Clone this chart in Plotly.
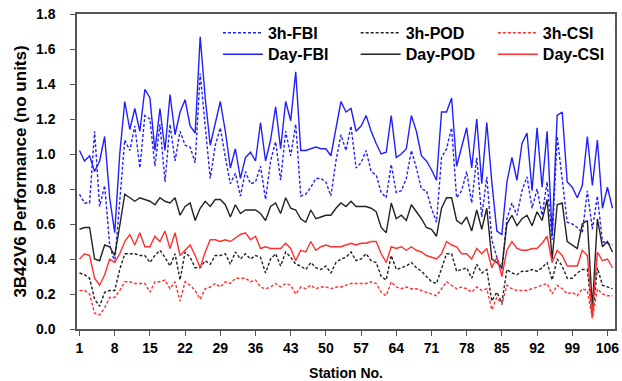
import plotly.graph_objects as go

stations = list(range(1, 108))
x_ticks = [1, 8, 15, 22, 29, 36, 43, 50, 57, 64, 71, 78, 85, 92, 99, 106]
y_ticks = [0.0, 0.2, 0.4, 0.6, 0.8, 1.0, 1.2, 1.4, 1.6, 1.8]

day_fbi = [1.02, 0.96, 0.99, 0.90, 0.96, 1.10, 0.75, 0.55, 1.00, 1.30,
           1.14, 1.26, 1.13, 1.37, 1.32, 1.02, 1.26, 1.02, 1.34, 1.11,
           1.24, 1.31, 1.16, 1.12, 1.67, 1.32, 1.05, 1.18, 1.30, 1.13,
           0.92, 1.03, 0.86, 0.98, 1.01, 0.96, 1.18, 0.96, 1.08, 1.27,
           1.03, 1.30, 1.19, 1.47, 1.02, 1.02, 1.03, 1.04, 1.03, 1.03,
           0.99, 1.15, 1.30, 1.24, 1.26, 1.13, 1.16, 1.22, 1.13, 1.06,
           1.00, 1.01, 1.22, 0.98, 1.00, 1.03, 1.22, 1.13, 0.99, 0.96,
           0.91, 0.85, 1.24, 1.24, 1.32, 0.93, 1.04, 1.15, 0.92, 1.20,
           0.83, 1.18, 0.84, 0.56, 0.54, 0.84, 0.98, 0.85, 1.06, 1.12,
           0.79, 1.15, 0.81, 1.13, 0.54, 1.22, 1.24, 0.84, 0.81, 0.75,
           0.82, 1.10, 0.82, 1.08, 0.69, 0.81, 0.69]

h3_fbi = [0.77, 0.72, 0.72, 1.13, 0.70, 0.82, 0.48, 0.38, 0.73, 1.08,
          1.02, 1.16, 0.92, 1.22, 1.20, 0.93, 1.17, 0.84, 1.17, 0.96,
          1.13, 1.05, 1.04, 0.95, 1.46, 1.17, 0.86, 1.05, 1.15, 0.98,
          0.83, 0.89, 0.76, 0.90, 0.83, 0.84, 0.93, 0.74, 0.96, 1.07,
          0.85, 1.13, 0.99, 1.17, 0.76, 0.77, 0.81, 0.86, 0.86, 0.84,
          0.76, 0.96, 1.11, 1.02, 1.16, 0.92, 0.95, 1.02, 0.90, 0.88,
          0.78, 0.75, 0.94, 0.78, 0.79, 0.86, 1.02, 0.92, 0.80, 0.79,
          0.69, 0.61, 0.98, 1.03, 1.15, 0.75, 0.79, 0.90, 0.72, 0.98,
          0.64, 0.87, 0.51, 0.41, 0.34, 0.63, 0.72, 0.65, 0.79, 0.87,
          0.69, 0.80, 0.65, 0.84, 0.51, 1.10, 0.85, 0.61, 0.60, 0.58,
          0.55, 0.79, 0.57, 0.76, 0.50, 0.49, 0.48]

day_pod = [0.57, 0.58, 0.58, 0.40, 0.39, 0.48, 0.47, 0.42, 0.59, 0.77,
           0.75, 0.73, 0.75, 0.74, 0.73, 0.71, 0.75, 0.73, 0.72, 0.75,
           0.65, 0.70, 0.72, 0.62, 0.69, 0.73, 0.70, 0.74, 0.74, 0.71,
           0.64, 0.71, 0.66, 0.68, 0.68, 0.68, 0.66, 0.62, 0.70, 0.72,
           0.66, 0.75, 0.69, 0.68, 0.63, 0.61, 0.68, 0.63, 0.64, 0.65,
           0.65, 0.69, 0.72, 0.70, 0.73, 0.70, 0.70, 0.70, 0.69, 0.67,
           0.58, 0.55, 0.72, 0.63, 0.65, 0.62, 0.71, 0.67, 0.63, 0.58,
           0.57, 0.53, 0.69, 0.75, 0.75, 0.62, 0.60, 0.64, 0.56, 0.68,
           0.57, 0.69, 0.40, 0.38, 0.35, 0.60, 0.65, 0.59, 0.63, 0.65,
           0.59, 0.67, 0.62, 0.74, 0.40, 0.71, 0.72, 0.50, 0.48, 0.46,
           0.60, 0.62, 0.12, 0.63, 0.47, 0.50, 0.44]

h3_pod = [0.32, 0.31, 0.29, 0.17, 0.13, 0.21, 0.22, 0.22, 0.34, 0.43,
          0.43, 0.43, 0.42, 0.42, 0.38, 0.42, 0.45, 0.41, 0.36, 0.43,
          0.28, 0.44, 0.41, 0.35, 0.35, 0.39, 0.37, 0.42, 0.42, 0.43,
          0.37, 0.44, 0.40, 0.43, 0.40, 0.42, 0.41, 0.32, 0.40, 0.43,
          0.36, 0.44, 0.41, 0.37, 0.36, 0.34, 0.38, 0.35, 0.34, 0.36,
          0.32, 0.38, 0.40, 0.41, 0.44, 0.39, 0.40, 0.43, 0.39, 0.38,
          0.30, 0.28, 0.42, 0.34, 0.35, 0.36, 0.38, 0.35, 0.33, 0.30,
          0.27, 0.26, 0.34, 0.43, 0.43, 0.33, 0.34, 0.35, 0.29, 0.37,
          0.32, 0.34, 0.16, 0.21, 0.15, 0.34, 0.32, 0.31, 0.33, 0.33,
          0.34, 0.33, 0.35, 0.38, 0.28, 0.40, 0.36, 0.29, 0.29, 0.32,
          0.34, 0.34, 0.07, 0.35, 0.25, 0.24, 0.23]

day_csi = [0.40, 0.43, 0.42, 0.29, 0.25, 0.31, 0.40, 0.38, 0.43, 0.50,
           0.54, 0.48, 0.55, 0.47, 0.47, 0.53, 0.50, 0.56, 0.46, 0.55,
           0.42, 0.45, 0.48, 0.42, 0.35, 0.44, 0.51, 0.51, 0.50, 0.51,
           0.50, 0.52, 0.54, 0.55, 0.51, 0.53, 0.46, 0.47, 0.46, 0.46,
           0.46, 0.49, 0.46, 0.39, 0.45, 0.44, 0.50, 0.45, 0.47, 0.48,
           0.47, 0.47, 0.47, 0.48, 0.49, 0.48, 0.49, 0.49, 0.50, 0.50,
           0.43, 0.38, 0.47, 0.46, 0.47, 0.45, 0.47, 0.45, 0.44, 0.42,
           0.41, 0.40, 0.43, 0.50, 0.48, 0.47, 0.43, 0.43, 0.40, 0.46,
           0.43, 0.46, 0.35, 0.41, 0.30, 0.45, 0.50, 0.46, 0.45, 0.45,
           0.46, 0.46, 0.49, 0.53, 0.38, 0.45, 0.42, 0.36, 0.36, 0.36,
           0.45, 0.42, 0.08, 0.44, 0.39, 0.40, 0.35]

h3_csi = [0.22, 0.22, 0.20, 0.09, 0.08, 0.12, 0.18, 0.18, 0.22, 0.27,
          0.27, 0.26, 0.26, 0.26, 0.21, 0.27, 0.27, 0.28, 0.23, 0.27,
          0.16, 0.27, 0.25, 0.22, 0.17, 0.23, 0.24, 0.26, 0.24, 0.27,
          0.26, 0.29, 0.29, 0.29, 0.27, 0.28, 0.24, 0.23, 0.24, 0.26,
          0.24, 0.26, 0.25, 0.20, 0.24, 0.23, 0.25, 0.23, 0.24, 0.24,
          0.23, 0.24, 0.24, 0.25, 0.26, 0.26, 0.26, 0.26, 0.27, 0.26,
          0.21, 0.19, 0.27, 0.24, 0.23, 0.24, 0.23, 0.23, 0.22, 0.21,
          0.20, 0.19, 0.23, 0.27, 0.25, 0.23, 0.24, 0.23, 0.21, 0.24,
          0.22, 0.23, 0.11, 0.18, 0.14, 0.25, 0.23, 0.22, 0.22, 0.22,
          0.23, 0.24, 0.25, 0.26, 0.20, 0.25, 0.23, 0.20, 0.21, 0.19,
          0.23, 0.22, 0.06, 0.23, 0.20, 0.19, 0.19]

BLUE = "#2020ff"
BLACK = "#222222"
RED = "#ff3030"
DOT = "3px,2px"
FONT = "Liberation Sans, Arial, sans-serif"

series = [
    ("3h-FBI", h3_fbi, BLUE, DOT, "legend"),
    ("3h-POD", h3_pod, BLACK, DOT, "legend2"),
    ("3h-CSI", h3_csi, RED, DOT, "legend3"),
    ("Day-FBI", day_fbi, BLUE, "solid", "legend4"),
    ("Day-POD", day_pod, BLACK, "solid", "legend5"),
    ("Day-CSI", day_csi, RED, "solid", "legend6"),
]

fig = go.Figure()
for name, vals, color, dash, leg in series:
    fig.add_trace(go.Scatter(
        x=stations, y=vals, mode="lines", name=name,
        line=dict(color=color, width=1.4, dash=dash),
        legend=leg,
    ))

legfont = dict(family=FONT, size=16, color="black", weight="bold")
leg_x = [0.262, 0.518, 0.773]
leg_y = [0.94, 0.872]
legs = {}
for i in range(6):
    key = "legend" if i == 0 else f"legend{i+1}"
    legs[key] = dict(
        x=leg_x[i % 3], y=leg_y[i // 3], xanchor="left", yanchor="middle",
        font=legfont, bgcolor="rgba(0,0,0,0)", itemwidth=40,
        borderwidth=0, tracegroupgap=0,
    )

fig.update_layout(
    width=622, height=381,
    margin=dict(l=77, r=7, t=14, b=52),
    paper_bgcolor="white", plot_bgcolor="white",
    showlegend=True,
    font=dict(family=FONT, color="black"),
    xaxis=dict(
        range=[0.5, 107.5], tickmode="array", tickvals=x_ticks,
        ticktext=[str(v) for v in x_ticks], automargin=False,
        ticks="outside", ticklen=5, tickwidth=1.2, tickcolor="#555555",
        showline=True, linecolor="#555555", linewidth=1.5, mirror=True,
        showgrid=False, zeroline=False,
        tickfont=dict(family=FONT, size=14, color="black", weight="bold"),
        title=dict(text="Station No.", standoff=15,
                   font=dict(family=FONT, size=14, color="black", weight="bold")),
    ),
    yaxis=dict(
        range=[0, 1.8], tickmode="array", tickvals=y_ticks,
        ticktext=[f"{v:.1f}" for v in y_ticks], automargin=False,
        ticks="outside", ticklen=5, tickwidth=1.2, tickcolor="#555555",
        showline=True, linecolor="#555555", linewidth=1.5, mirror=True,
        showgrid=False, zeroline=False, ticklabelstandoff=12,
        tickfont=dict(family=FONT, size=14, color="black", weight="bold"),
        title=dict(text="3B42V6 Performance (no units)", standoff=5,
                   font=dict(family=FONT, size=17, color="black", weight="bold")),
    ),
    **legs,
)

fig.write_html("out.html")
